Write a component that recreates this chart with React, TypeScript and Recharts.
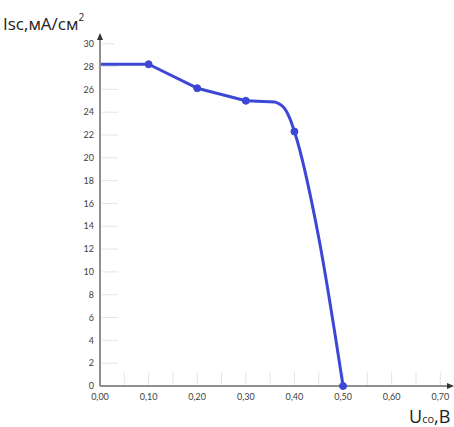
import { LineChart, Line, XAxis, YAxis, ReferenceLine } from "recharts";

// measured points of the I-V curve
const voltage = [0, 0.1, 0.2, 0.3, 0.36, 0.38, 0.39, 0.4, 0.45, 0.5];
const current = [28.2, 28.2, 26.1, 25.0, 24.9, 24.3, 23.5, 22.3, 13.0, 0];
const marked = [false, true, true, true, false, false, false, true, false, true];
// where the straight part ends and the knee starts
const kneeU = 0.36;

const xTicks = [0, 0.1, 0.2, 0.3, 0.4, 0.5, 0.6, 0.7];
const xMinor = [0.05, 0.1, 0.15, 0.2, 0.25, 0.3, 0.35, 0.4, 0.45, 0.5, 0.55, 0.6, 0.65, 0.7];
const yTicks = [0, 2, 4, 6, 8, 10, 12, 14, 16, 18, 20, 22, 24, 26, 28, 30];

const data = voltage.map((u, i) => ({
  u,
  straight: u <= kneeU ? current[i] : undefined,
  knee: u >= kneeU ? current[i] : undefined,
  mark: marked[i],
}));

const blue = "#3d47d5";
const axisGray = "#8f8f8f";
const font = "Lato, 'Open Sans', sans-serif";

const Dot = (props: any) => {
  const { cx, cy, payload, index, value } = props;
  if (!payload || !payload.mark || value == null) return <g key={index} />;
  return <circle key={index} cx={cx} cy={cy} r={3.5} fill={blue} stroke={blue} />;
};

const YArrow = (props: any) => {
  const vb = props.viewBox;
  const x = vb.x + vb.width;
  const y = vb.y;
  return <polygon points={`${x},${y - 5} ${x - 3},${y + 2} ${x + 3},${y + 2}`} fill="#333" />;
};

const XArrow = (props: any) => {
  const vb = props.viewBox;
  const x = vb.x + vb.width;
  const y = vb.y;
  return <polygon points={`${x + 4},${y} ${x - 3},${y - 3} ${x - 3},${y + 3}`} fill="#333" />;
};

export default function App() {
  return (
    <div style={{ position: "absolute", left: 0, top: 0, width: 454, height: 427, background: "#fff", fontFamily: font }}>
      <LineChart width={454} height={427} data={data} margin={{ top: 38, right: 4, bottom: 21, left: 70 }}>
        {xMinor.map((v) => (
          <ReferenceLine
            key={"x" + v}
            segment={[{ x: v, y: 0 }, { x: v, y: 1.2 }]}
            stroke="#e4e4e4"
            strokeWidth={1}
          />
        ))}
        {yTicks.map((v) => (
          <ReferenceLine
            key={"y" + v}
            segment={[{ x: 0.004, y: v }, { x: v === 30 ? 0.03 : 0.037, y: v }]}
            stroke="#e4e4e4"
            strokeWidth={1}
          />
        ))}
        <XAxis
          dataKey="u"
          type="number"
          domain={[0, 0.72]}
          ticks={xTicks}
          tickFormatter={(v: number) => v.toFixed(2).replace(".", ",")}
          tick={{ fontSize: 9, fill: "#404040", fontFamily: font }}
          tickLine={false}
          tickSize={0}
          tickMargin={8}
          height={20}
          axisLine={{ stroke: axisGray, strokeWidth: 2 }}
          label={<XArrow />}
        />
        <YAxis
          type="number"
          domain={[0, 30.5]}
          ticks={yTicks}
          tick={{ fontSize: 9, fill: "#404040", fontFamily: font }}
          tickLine={false}
          tickSize={0}
          tickMargin={6}
          width={30}
          axisLine={{ stroke: axisGray, strokeWidth: 2 }}
          label={<YArrow />}
        />
        <Line
          dataKey="straight"
          type="linear"
          stroke={blue}
          strokeWidth={3}
          strokeLinejoin="round"
          dot={<Dot />}
          activeDot={false}
          isAnimationActive={false}
        />
        <Line
          dataKey="knee"
          type="monotone"
          stroke={blue}
          strokeWidth={3}
          strokeLinejoin="round"
          dot={<Dot />}
          activeDot={false}
          isAnimationActive={false}
        />
      </LineChart>
      <div style={{ position: "absolute", left: 3, top: 14, fontSize: 17, color: "#222", whiteSpace: "nowrap", lineHeight: "20px", fontFamily: "'Open Sans', sans-serif" }}>
        Isc,мА/см<sup style={{ fontSize: 10, position: "relative", top: -9, verticalAlign: "baseline" }}>2</sup>
      </div>
      <div style={{ position: "absolute", left: 409, top: 406, fontSize: 18, color: "#222", whiteSpace: "nowrap", lineHeight: "20px", fontFamily: "'Open Sans', sans-serif" }}>
        U<span style={{ fontSize: 11 }}>co</span>,B
      </div>
    </div>
  );
}
